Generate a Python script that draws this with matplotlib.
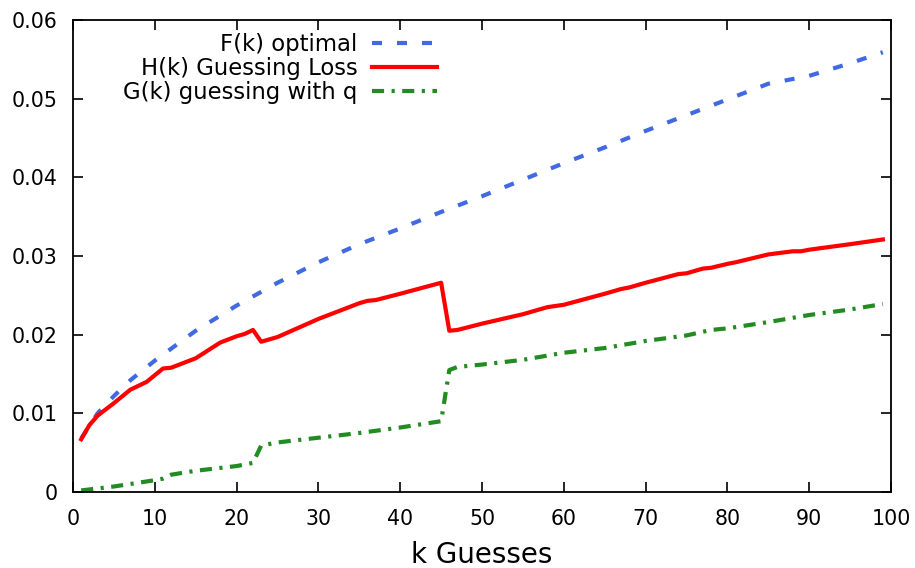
# Guessing loss curves
import matplotlib.pyplot as plt

# F(k) optimal
f_k = [1, 3, 5, 7, 10, 15, 20, 25, 30, 35, 40, 45, 50, 55, 60, 65, 70, 75, 80, 85, 90, 95, 99]
f_val = [0.0068, 0.0100, 0.0122, 0.0142, 0.0167, 0.0205, 0.0237, 0.0266, 0.0292, 0.0315, 0.0335, 0.0356,
         0.0376, 0.0397, 0.0418, 0.0438, 0.0459, 0.0479, 0.0499, 0.0519, 0.0529, 0.0545, 0.0559]

# H(k) guessing loss
h_k = [1, 2, 3, 5, 7, 9, 11, 12, 15, 18, 20, 21, 22, 23, 25, 30, 35, 36, 37, 40, 45, 46, 47, 50, 55,
       58, 60, 65, 67, 68, 70, 74, 75, 77, 78, 80, 81, 85, 88, 89, 90, 95, 99]
h_val = [0.0067, 0.0085, 0.0097, 0.0113, 0.0130, 0.0140, 0.0157, 0.0158, 0.0170, 0.0190, 0.0198, 0.0201,
         0.0206, 0.0191, 0.0197, 0.0220, 0.0240, 0.0243, 0.0244, 0.0252, 0.0266, 0.0205, 0.0206, 0.0214,
         0.0226, 0.0235, 0.0238, 0.0252, 0.0258, 0.0260, 0.0266, 0.0277, 0.0278, 0.0284, 0.0285, 0.0290,
         0.0292, 0.0302, 0.0306, 0.0306, 0.0308, 0.0315, 0.0321]

# G(k) guessing with q
g_k = [1, 5, 10, 11, 12, 15, 20, 22, 23, 25, 30, 35, 40, 45, 46, 47, 50, 55, 60, 65, 70, 75, 78, 80,
       85, 90, 95, 99]
g_val = [0.0002, 0.0007, 0.0015, 0.0017, 0.0022, 0.0027, 0.0033, 0.0037, 0.0059, 0.0063, 0.0069, 0.0075,
         0.0082, 0.0090, 0.0155, 0.0159, 0.0162, 0.0168, 0.0177, 0.0183, 0.0192, 0.0199, 0.0206, 0.0208,
         0.0216, 0.0225, 0.0232, 0.0239]

x_ticks = list(range(0, 101, 10))
y_ticks = [0, 0.01, 0.02, 0.03, 0.04, 0.05, 0.06]
y_labels = ['0', '0.01', '0.02', '0.03', '0.04', '0.05', '0.06']

plt.rcParams['font.family'] = 'DejaVu Sans'
fig = plt.figure(figsize=(9.15, 5.68), dpi=100)
ax = fig.add_axes([0.0798, 0.1338, 0.894, 0.831])

lw = 3.0
ax.plot(f_k, f_val, color='#4169E1', lw=lw, linestyle=(0, (2.4, 3.6)), label='F(k) optimal')
ax.plot(h_k, h_val, color='#FF0000', lw=lw, label='H(k) Guessing Loss')
ax.plot(g_k, g_val, color='#228B22', lw=lw, linestyle=(0, (2.9, 1.8, 0.75, 1.8)),
        label='G(k) guessing with q')

ax.set_xlim(0, 100)
ax.set_ylim(0, 0.06)
ax.set_xticks(x_ticks)
ax.set_yticks(y_ticks)
ax.set_yticklabels(y_labels)
ax.tick_params(direction='in', top=True, right=True, length=7, width=1.2, labelsize=14.8)
ax.tick_params(axis='x', pad=12)
ax.tick_params(axis='y', pad=11)
for s in ax.spines.values():
    s.set_linewidth(1.3)
ax.set_xlabel('k Guesses', fontsize=20, labelpad=9)

ax.legend(loc='upper left', bbox_to_anchor=(0.036, 1.016), frameon=False, markerfirst=False,
          fontsize=16.4, handlelength=2.85, handletextpad=0.65, labelspacing=0.04)

fig.savefig('out.png', dpi=100)
